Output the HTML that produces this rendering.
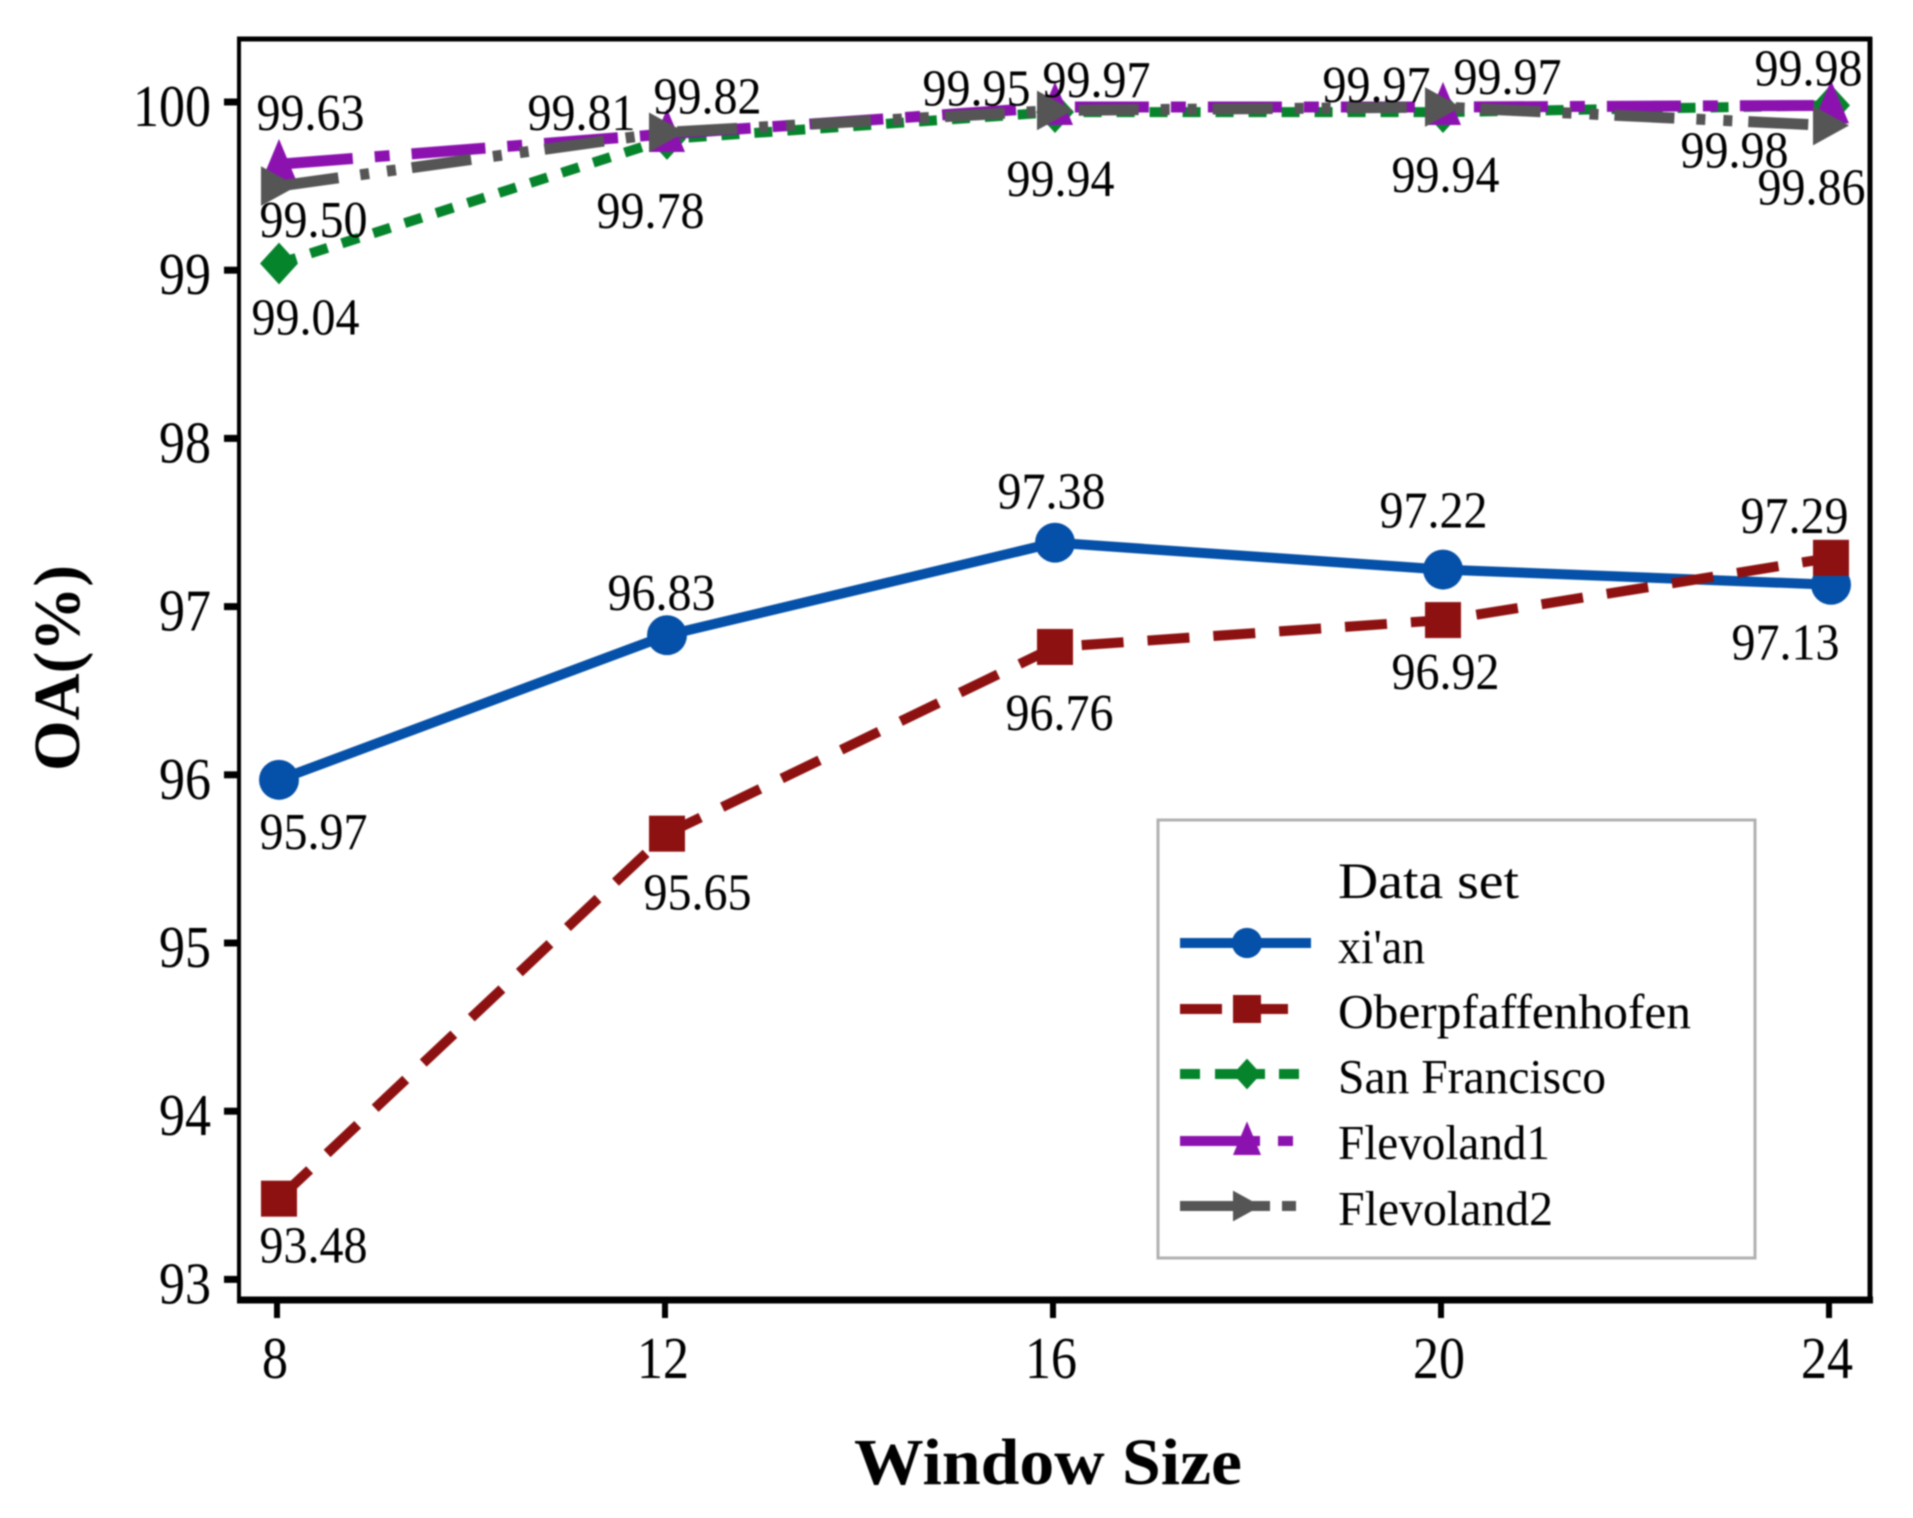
<!DOCTYPE html>
<html lang="en">
<head>
<meta charset="utf-8">
<title>OA vs Window Size</title>
<style>
html,body{margin:0;padding:0;background:#fff;}
svg{display:block;filter:blur(0.9px);}
text{font-family:"Liberation Serif","Times New Roman",serif;fill:#000;}
</style>
</head>
<body>
<svg id="chart" xmlns="http://www.w3.org/2000/svg" width="1913" height="1518" viewBox="0 0 1913 1518">
  <rect x="0" y="0" width="1913" height="1518" fill="#fff"/>
  <g id="plot"></g>
  <g id="frame">
    <line x1="237" y1="39" x2="1872" y2="39" stroke="#000" stroke-width="5"/>
    <line x1="239" y1="37" x2="239" y2="1303" stroke="#000" stroke-width="4"/>
    <line x1="237" y1="1300" x2="1873" y2="1300" stroke="#000" stroke-width="7"/>
    <line x1="1870" y1="37" x2="1870" y2="1303" stroke="#000" stroke-width="5"/>
  </g>
  <text x="1048" y="1484" text-anchor="middle" font-size="66" font-weight="bold" textLength="388" lengthAdjust="spacingAndGlyphs">Window Size</text>
  <text transform="translate(79,668) rotate(-90)" text-anchor="middle" font-size="66" font-weight="bold" textLength="206" lengthAdjust="spacingAndGlyphs">OA(%)</text>
  <g id="legend">
    <rect x="1158" y="820" width="597" height="438" fill="#fff" stroke="#b0b0b0" stroke-width="3"/>
    <text x="1338" y="898" font-size="51" textLength="181" lengthAdjust="spacingAndGlyphs">Data set</text>
    <text x="1338" y="963" font-size="49" textLength="87" lengthAdjust="spacingAndGlyphs">xi'an</text>
    <text x="1338" y="1028" font-size="49" textLength="353" lengthAdjust="spacingAndGlyphs">Oberpfaffenhofen</text>
    <text x="1338" y="1093" font-size="49" textLength="268" lengthAdjust="spacingAndGlyphs">San Francisco</text>
    <text x="1338" y="1159" font-size="49" textLength="212" lengthAdjust="spacingAndGlyphs">Flevoland1</text>
    <text x="1338" y="1225" font-size="49" textLength="215" lengthAdjust="spacingAndGlyphs">Flevoland2</text>
  </g>
</svg>
<script>
// ---- chart data ----
var windowSizes = [8, 12, 16, 20, 24];
var yTickValues = [93, 94, 95, 96, 97, 98, 99, 100];
var xianValues = [95.97, 96.83, 97.38, 97.22, 97.13];
var oberValues = [93.48, 95.65, 96.76, 96.92, 97.29];
var sanFranciscoValues = [99.04, 99.78, 99.94, 99.94, 99.98];
var flevoland1Values = [99.63, 99.81, 99.97, 99.97, 99.98];
var flevoland2Values = [99.50, 99.82, 99.95, 99.97, 99.86];

// ---- label nudges relative to each point (layout, not data) ----
var xianNudge = [[-17,69],[-57,-25],[-55,-34],[-61,-42],[-97,75]];
var oberNudge = [[-17,64],[-21,76],[-47,83],[-49,69],[-88,-25]];
var sanNudge = [[-25,71],[-68,89],[-46,84],[-49,80],[-148,62]];
var flev1Nudge = [[-20,-34],[-137,-4],[-10,-10],[13,-13],[-74,-20]];
var flev2Nudge = [[-17,51],[-11,-19],[-130,-5],[-118,-5],[-71,79]];

var NS = 'http://www.w3.org/2000/svg';
var svg = document.getElementById('chart');
var plot = document.getElementById('plot');
var legend = document.getElementById('legend');

function xScale(v) { return 279 + (v - 8) * 97; }
function yScale(v) { return 102 + (100 - v) * 168.2; }

function make(tag, attrs, parent) {
  var n = document.createElementNS(NS, tag);
  for (var k in attrs) { n.setAttribute(k, attrs[k]); }
  parent.appendChild(n);
  return n;
}

function drawMarker(kind, cx, cy, s, color, parent) {
  var h = s / 2, m;
  if (kind === 'circle') {
    m = make('circle', {cx: cx, cy: cy, r: h * 1.08, fill: color}, parent);
  } else if (kind === 'square') {
    m = make('rect', {x: cx - h, y: cy - h, width: s, height: s, fill: color}, parent);
  } else if (kind === 'diamond') {
    m = make('polygon', {points: [cx, cy - h * 1.1, cx + h, cy, cx, cy + h * 1.1, cx - h, cy].join(' '), fill: color}, parent);
  } else if (kind === 'triangle') {
    m = make('polygon', {points: [cx, cy - h * 1.4, cx + h, cy + h, cx - h, cy + h].join(' '), fill: color}, parent);
  } else {
    m = make('polygon', {points: [cx - h, cy - h * 1.1, cx + h, cy, cx - h, cy + h * 1.1].join(' '), fill: color}, parent);
  }
  return m;
}

var seriesList = [
  {slug: 'xian', values: xianValues, nudge: xianNudge, color: '#0550a8', dash: '', width: 10, marker: 'circle', size: 37, keyDash: '', keyY: 943},
  {slug: 'oberpfaffenhofen', values: oberValues, nudge: oberNudge, color: '#8e1111', dash: '42 24', width: 10, marker: 'square', size: 36, keyDash: '42 24 42 200', keyY: 1009},
  {slug: 'san-francisco', values: sanFranciscoValues, nudge: sanNudge, color: '#06842c', dash: '18 15', width: 10, marker: 'diamond', size: 38, keyDash: '20 15 50 14 20 200', keyY: 1074},
  {slug: 'flevoland1', values: flevoland1Values, nudge: flev1Nudge, color: '#8c12b0', dash: '74 22 15 22', width: 11, marker: 'triangle', size: 36, keyDash: '80 18 15 200', keyY: 1141},
  {slug: 'flevoland2', values: flevoland2Values, nudge: flev2Nudge, color: '#555555', dash: '60 22 9 18 9 16', width: 11, marker: 'arrow', size: 36, keyDash: '90 12 14 200', keyY: 1206}
];

// y axis ticks
yTickValues.forEach(function (t) {
  var tick = make('line', {x1: 224, x2: 239, y1: yScale(t), y2: yScale(t), stroke: '#000', 'stroke-width': 7}, svg);
  
  
  var lab = make('text', {transform: 'translate(211,' + (yScale(t) + 24) + ') scale(1,1.14)', 'text-anchor': 'end', 'font-size': 52}, svg);
  lab.textContent = String(t);
  
  
});

// x axis ticks
windowSizes.forEach(function (t) {
  var tick = make('line', {x1: xScale(t) - 2, x2: xScale(t) - 2, y1: 1300, y2: 1318, stroke: '#000', 'stroke-width': 6}, svg);
  
  
  var lab = make('text', {transform: 'translate(' + (xScale(t) - 4) + ',1378) scale(1,1.14)', 'text-anchor': 'middle', 'font-size': 52}, svg);
  lab.textContent = String(t);
  
  
});

// series
seriesList.forEach(function (s) {
  var g = make('g', {}, plot);
  
  

  var pts = s.values.map(function (v, i) { return xScale(windowSizes[i]) + ',' + yScale(v); }).join(' ');
  var line = make('polyline', {points: pts, fill: 'none', stroke: s.color, 'stroke-width': s.width, 'stroke-dasharray': s.dash || 'none'}, g);
  
  

  s.values.forEach(function (v, i) {
    var w = windowSizes[i];
    var mk = drawMarker(s.marker, xScale(w), yScale(v), s.size, s.color, g);
    
    
  });
});

// value labels
seriesList.forEach(function (s) {
  s.values.forEach(function (v, i) {
    var w = windowSizes[i];
    var n = s.nudge[i];
    var t = make('text', {transform: 'translate(' + (xScale(w) - 2.5 + n[0]) + ',' + (yScale(v) + n[1]) + ') scale(1,1.08)', 'font-size': 48}, plot);
    t.textContent = v.toFixed(2);
    
    
  });
});

// legend keys
seriesList.forEach(function (s) {
  var key = make('line', {x1: 1180, x2: 1311, y1: s.keyY, y2: s.keyY, stroke: s.color, 'stroke-width': 10, 'stroke-dasharray': s.keyDash || 'none'}, legend);
  
  
  var mk = drawMarker(s.marker, 1247, s.keyY, 28, s.color, legend);
  
  
});
</script>
</body>
</html>
